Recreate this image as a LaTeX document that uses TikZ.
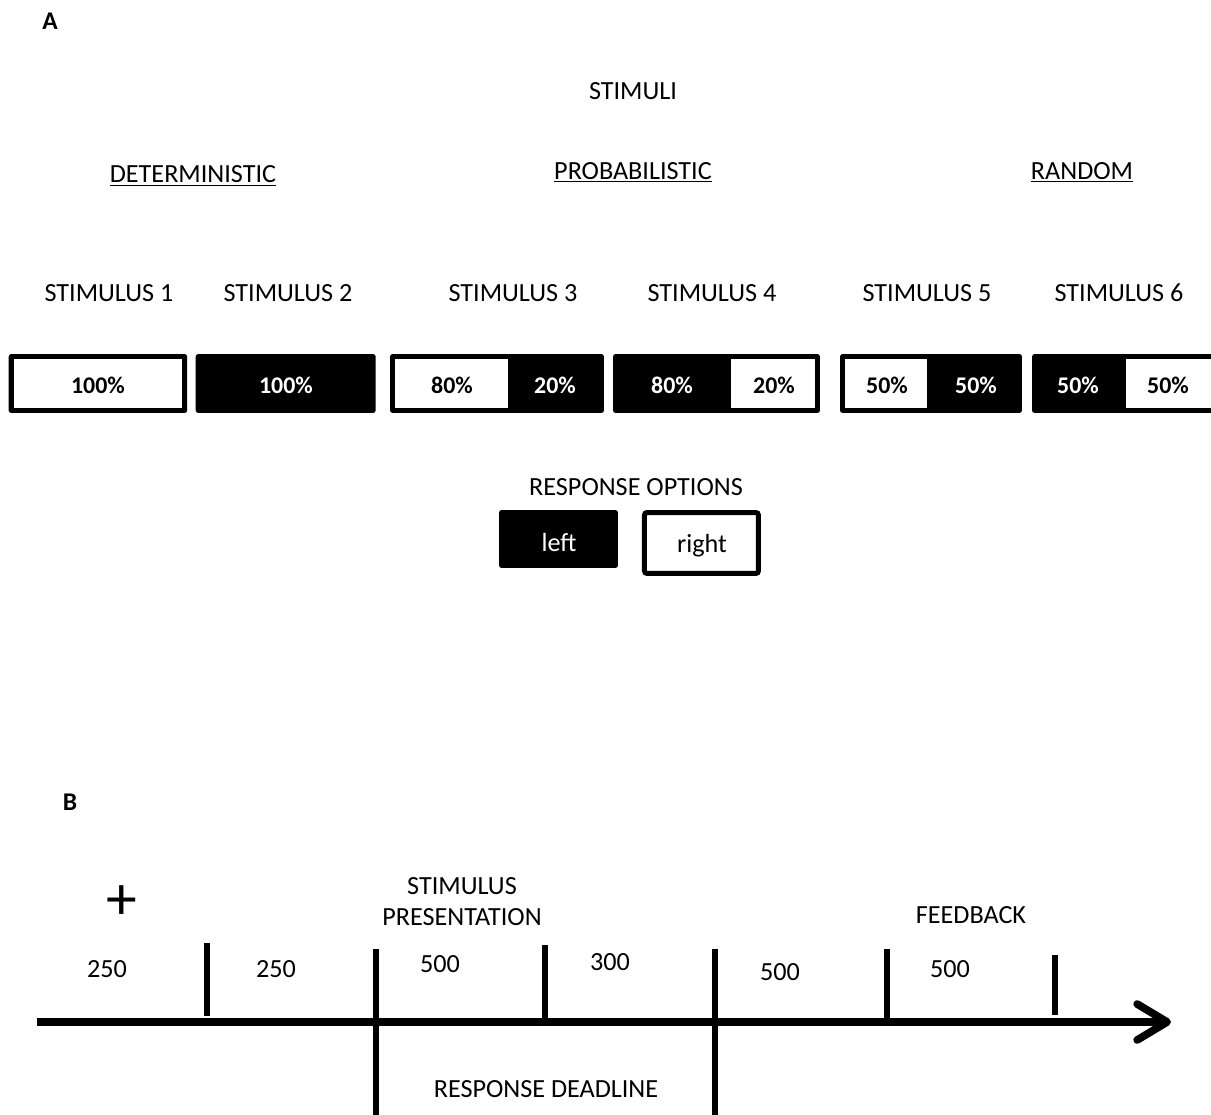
\documentclass[tikz,border=0pt]{standalone}
\usepackage{fontspec}
\setmainfont{Carlito}
\usetikzlibrary{
  arrows.meta,     % barb tip of the time axis
  positioning      % response keys next to each other
}
\tikzset{
  every node/.style = {inner sep=0pt, outer sep=0pt},
  lbl/.style = {anchor=base, font=\fontsize{14.9}{18}\selectfont},
  panel/.style = {anchor=base, font=\fontsize{14.5}{18}\selectfont\bfseries},
  pct/.style = {anchor=base, font=\fontsize{13.6}{16}\selectfont\bfseries},
  stimbox/.style = {rectangle, fill=black, rounded corners=1.5pt, minimum height=1.18cm},
  cell/.style = {rectangle, fill=white, minimum height=0.98cm},
  keyleft/.style = {rectangle, fill=black, rounded corners=1.5pt,
    minimum width=2.38cm, minimum height=1.16cm},
  keyright/.style = {rectangle, draw=black, line width=0.1cm, rounded corners=1.5pt,
    minimum width=2.28cm, minimum height=1.22cm},
  tick/.style = {line width=0.112cm},
  timeaxis/.style = {line width=0.154cm,
    -{Straight Barb[length=0.6cm, width=0.72cm, round]}}
}

\begin{document}
\begin{tikzpicture}[x=0.02cm, y=-0.02cm]
  \useasboundingbox (0,0) rectangle (1211,1115);

  %% panel A
  \node[panel] (A) at (50,30) {A};
  \node[lbl] (stimuli) at (633,100) {STIMULI};

  \node[lbl] (det) at (193,183) {\underline{DETERMINISTIC}};
  \node[lbl] (prob) at (633,179) {\underline{PROBABILISTIC}};
  \node[lbl] (rand) at (1082,179) {\underline{RANDOM}};

  \foreach \x [count=\i] in {109,288,513,712,927,1119}
    \node[lbl] (s\i) at (\x,301) {STIMULUS \i};

  %% stimulus boxes
  \node[stimbox, minimum width=3.57cm] (box1) at (97.9,383.5) {};
  \node[cell, minimum width=3.37cm] (box1w) at (97.9,383.5) {};
  \node[stimbox, minimum width=3.60cm] (box2) at (285.7,383.5) {};
  \node[stimbox, minimum width=4.28cm] (box3) at (497,383.5) {};
  \node[cell, minimum width=2.26cm] (box3w) at (451.5,383.5) {};
  \node[stimbox, minimum width=4.14cm] (box4) at (716.5,383.5) {};
  \node[cell, minimum width=1.68cm] (box4w) at (773,383.5) {};
  \node[stimbox, minimum width=3.64cm] (box5) at (931,383.5) {};
  \node[cell, minimum width=1.64cm] (box5w) at (886,383.5) {};
  \node[stimbox, minimum width=3.68cm] (box6) at (1124,383.5) {};
  \node[cell, minimum width=1.70cm] (box6w) at (1168.5,383.5) {};

  \node[pct] (p1) at (98,393) {100\%};
  \node[pct, text=white] (p2) at (286,393) {100\%};
  \node[pct] (p3a) at (452,393) {80\%};
  \node[pct, text=white] (p3b) at (555,393) {20\%};
  \node[pct, text=white] (p4a) at (672,393) {80\%};
  \node[pct] (p4b) at (774,393) {20\%};
  \node[pct] (p5a) at (887,393) {50\%};
  \node[pct, text=white] (p5b) at (976,393) {50\%};
  \node[pct, text=white] (p6a) at (1078,393) {50\%};
  \node[pct] (p6b) at (1168,393) {50\%};

  %% response options
  \node[lbl] (resp) at (636,495) {RESPONSE OPTIONS};
  \node[keyleft] (keyL) at (558.5,539) {};
  \node[keyright, right=0.53cm of keyL, yshift=-0.08cm] (keyR) {};
  \node[lbl, text=white] at (559,551) {left};
  \node[lbl] at (702,552) {right};

  %% panel B
  \node[panel] (B) at (70,810) {B};
  \node[font=\fontsize{35}{38}\selectfont] (fix) at (122,903) {+};

  \node[lbl, align=center] (stimpres) at (462,925) {STIMULUS\\[-0.5pt]PRESENTATION};
  \node[lbl] (fb) at (971,923) {FEEDBACK};
  \node[lbl] (dead) at (546,1097) {RESPONSE DEADLINE};

  \node[lbl] (d1) at (107,977) {250};
  \node[lbl] (d2) at (276,977) {250};
  \node[lbl] (d3) at (440,972) {500};
  \node[lbl] (d4) at (610,970) {300};
  \node[lbl] (d5) at (780,980) {500};
  \node[lbl] (d6) at (950,977) {500};

  %% time axis
  \coordinate (t0) at (37,1022);
  \coordinate (tend) at (1171,1022);
  \draw[timeaxis] (t0) -- (tend);

  \foreach \x/\top/\bot in {207/943/1016, 376/949/1115, 545/945/1018,
                            715/949/1115, 887/949/1018, 1055/955/1015}
    \draw[tick] (\x,\top) -- (\x,\bot);

\end{tikzpicture}
\end{document}
